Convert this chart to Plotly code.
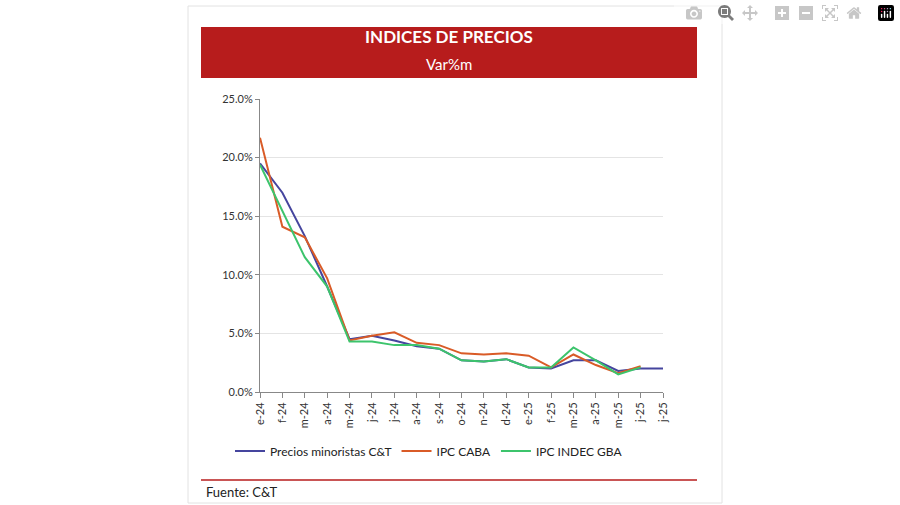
import plotly.graph_objects as go

months = ["e-24", "f-24", "m-24", "a-24", "m-24", "j-24", "j-24", "a-24", "s-24", "o-24",
          "n-24", "d-24", "e-25", "f-25", "m-25", "a-25", "m-25", "j-25", "j-25"]
precios_ct = [19.5, 17.0, 13.3, 9.0, 4.5, 4.8, 4.4, 3.9, 3.7, 2.7, 2.6, 2.8, 2.1, 2.0, 2.7, 2.7, 1.8, 2.0, 2.0]
ipc_caba = [21.7, 14.1, 13.2, 9.7, 4.4, 4.8, 5.1, 4.2, 4.0, 3.3, 3.2, 3.3, 3.1, 2.1, 3.2, 2.3, 1.6, 2.2]
ipc_gba = [19.4, 15.5, 11.5, 9.0, 4.3, 4.3, 4.0, 4.0, 3.7, 2.7, 2.6, 2.8, 2.1, 2.1, 3.8, 2.7, 1.5, 2.1]

W, H = 900, 505
L, R, T, B = 260, 663, 99, 392


def px(x):
    return (x - L) / (R - L)


def py(y):
    return (B - y) / (B - T)


idx = list(range(len(months)))
fig = go.Figure()
series = [("Precios minoristas C&T", precios_ct, "#45459e"),
          ("IPC CABA", ipc_caba, "#d95b27"),
          ("IPC INDEC GBA", ipc_gba, "#3cc46c")]
for name, vals, col in series:
    fig.add_trace(go.Scatter(x=idx[:len(vals)], y=[v / 100 for v in vals], name=name,
                             mode="lines", line=dict(color=col, width=2)))

shapes = [
    dict(type="rect", xref="paper", yref="paper", x0=px(188), x1=px(722), y0=py(503), y1=py(6),
         line=dict(color="#e2e2e2", width=1), fillcolor="rgba(0,0,0,0)", layer="below"),
    dict(type="rect", xref="paper", yref="paper", x0=px(201), x1=px(697), y0=py(78), y1=py(27),
         line=dict(width=0), fillcolor="#b71c1c"),
    dict(type="line", xref="paper", yref="paper", x0=px(201), x1=px(697), y0=py(480), y1=py(480),
         line=dict(color="#b71c1c", width=1.5)),
]
annotations = [
    dict(text="<b>INDICES DE PRECIOS</b>", xref="paper", yref="paper", x=px(449), y=py(37),
         yanchor="middle", showarrow=False, font=dict(size=17, color="white")),
    dict(text="Var%m", xref="paper", yref="paper", x=px(449), y=py(64),
         yanchor="middle", showarrow=False, font=dict(size=15, color="white")),
    dict(text="Fuente: C&T", xref="paper", yref="paper", x=px(204), y=py(492), xanchor="left",
         yanchor="middle", showarrow=False, font=dict(size=13, color="#222")),
]

fig.update_layout(
    width=W, height=H, margin=dict(l=L, r=W - R, t=T, b=H - B),
    paper_bgcolor="white", plot_bgcolor="white",
    font=dict(family="Lato", size=11, color="#333"),
    shapes=shapes, annotations=annotations,
    legend=dict(orientation="h", x=px(230), y=py(451), xanchor="left", yanchor="middle",
                font=dict(size=12, color="#222"), tracegroupgap=0),
)
fig.update_xaxes(tickmode="array", tickvals=idx, ticktext=months, tickangle=-90,
                 range=[0, len(months) - 1], showgrid=False, showline=True, linecolor="#888",
                 ticks="outside", ticklen=5, tickcolor="#888")
fig.update_yaxes(range=[0, 0.25], dtick=0.05, tickformat=".1%", showgrid=True, gridcolor="#e4e4e4",
                 showline=True, linecolor="#888", ticks="outside", ticklen=4, tickcolor="#888",
                 zeroline=False)
fig.write_html("out.html", post_script="document.body.style.margin='0';")
